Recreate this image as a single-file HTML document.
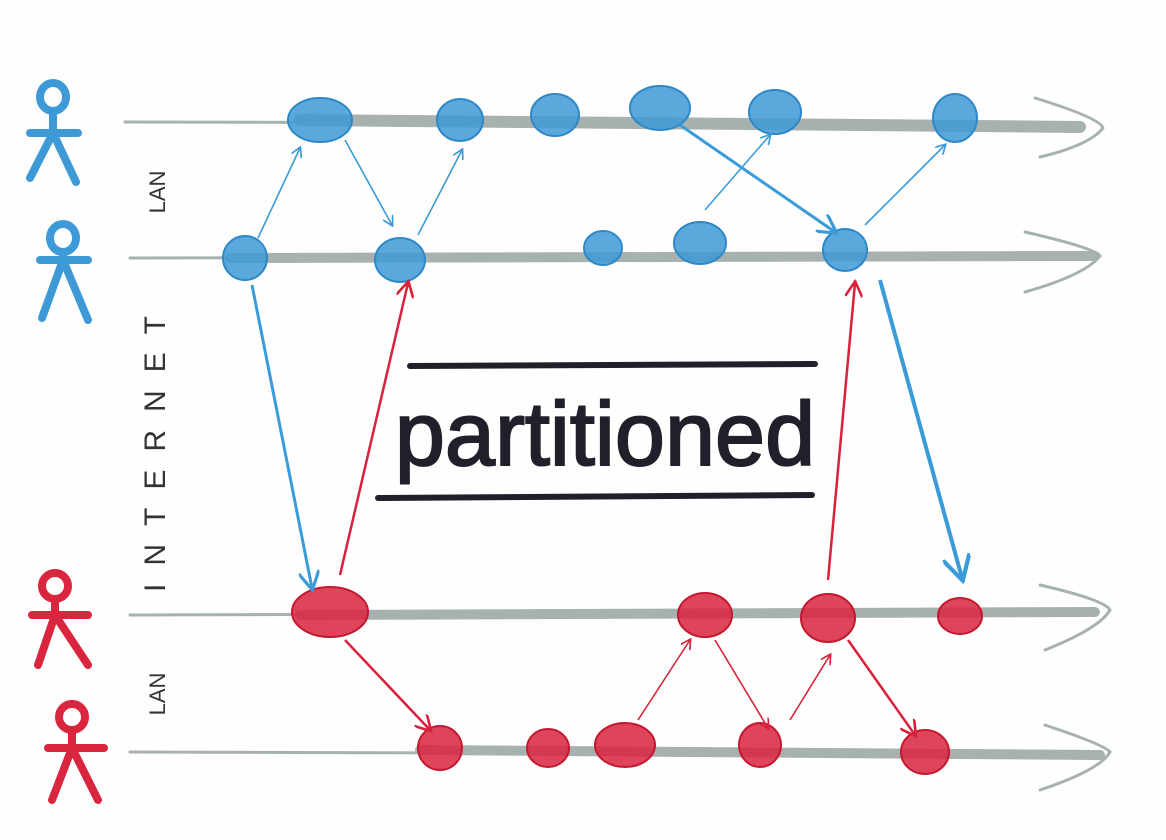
<!DOCTYPE html>
<html><head><style>body{margin:0;background:#fff}svg{display:block}</style></head><body>
<svg width="1166" height="840" viewBox="0 0 1166 840" xmlns="http://www.w3.org/2000/svg">
<defs>
<marker id="ab" viewBox="0 0 10 10" refX="8" refY="5" markerWidth="7" markerHeight="7" orient="auto"><path d="M0,0 L9,5 L0,10" fill="none" stroke="#3a9bd8" stroke-width="1.5"/></marker>
<marker id="ar" viewBox="0 0 10 10" refX="8" refY="5" markerWidth="7" markerHeight="7" orient="auto"><path d="M0,0 L9,5 L0,10" fill="none" stroke="#d8213a" stroke-width="1.5"/></marker>
</defs>
<rect width="1166" height="840" fill="#fefefe"/>
<g stroke="#a7b1b0" fill="none" stroke-linecap="round">
<path d="M125,122 L1060,124" stroke-width="3"/><path d="M300,120 L1080,127" stroke-width="12"/>
<path d="M1035,98 Q1100,118 1103,128 Q1090,145 1040,157" stroke-width="3"/>
<path d="M130,258 L1095,256" stroke-width="3"/><path d="M230,258 L1095,256" stroke-width="10"/>
<path d="M1025,232 Q1095,248 1100,256 Q1085,275 1025,292" stroke-width="3"/>
<path d="M130,615 L1095,612" stroke-width="3"/><path d="M300,615 L1095,612" stroke-width="10"/>
<path d="M1040,585 Q1105,600 1110,610 Q1100,628 1045,650" stroke-width="3"/>
<path d="M130,752 L1100,755" stroke-width="3"/><path d="M420,750 L1100,755" stroke-width="10"/>
<path d="M1045,725 Q1105,745 1110,752 Q1100,770 1040,790" stroke-width="3"/>
</g>
<g fill="#3e9ad6" fill-opacity="0.85" stroke="#2d88c8" stroke-width="2">
<ellipse cx="320" cy="120" rx="32" ry="22"/><ellipse cx="460" cy="120" rx="23" ry="21"/>
<ellipse cx="555" cy="115" rx="24" ry="21"/><ellipse cx="660" cy="108" rx="30" ry="22"/>
<ellipse cx="775" cy="112" rx="26" ry="22"/><ellipse cx="955" cy="118" rx="22" ry="24"/>
<ellipse cx="245" cy="258" rx="22" ry="22"/><ellipse cx="400" cy="260" rx="25" ry="22"/>
<ellipse cx="603" cy="248" rx="19" ry="17"/><ellipse cx="700" cy="243" rx="26" ry="21"/>
<ellipse cx="845" cy="250" rx="22" ry="21"/>
</g>
<g fill="#d9253d" fill-opacity="0.85" stroke="#c41830" stroke-width="2">
<ellipse cx="330" cy="612" rx="38" ry="25"/><ellipse cx="705" cy="615" rx="27" ry="22"/>
<ellipse cx="828" cy="618" rx="27" ry="24"/><ellipse cx="960" cy="616" rx="22" ry="18"/>
<ellipse cx="440" cy="748" rx="22" ry="22"/><ellipse cx="548" cy="748" rx="21" ry="19"/>
<ellipse cx="625" cy="745" rx="30" ry="22"/><ellipse cx="760" cy="745" rx="21" ry="22"/>
<ellipse cx="925" cy="752" rx="24" ry="22"/>
</g>
<g stroke="#3a9bd8" fill="none" stroke-width="1.6" marker-end="url(#ab)">
<path d="M258,238 L300,148"/><path d="M345,140 L392,225"/><path d="M418,235 L462,150"/>
<path d="M705,210 L770,135"/><path d="M680,125 L835,232" stroke-width="3"/><path d="M865,225 L945,145"/>
<path d="M252,285 L312,588" stroke-width="3"/><path d="M880,280 L962,578" stroke-width="4"/>
</g>
<g stroke="#d8213a" fill="none" stroke-width="1.6" marker-end="url(#ar)">
<path d="M340,575 L408,283" stroke-width="2.5"/><path d="M828,580 L855,283" stroke-width="2.5"/>
<path d="M345,640 L430,730" stroke-width="2.5"/><path d="M638,720 L690,640"/>
<path d="M715,640 L768,728"/><path d="M790,720 L830,655"/><path d="M848,640 L915,735" stroke-width="2.5"/>
</g>
<g stroke="#20202a" stroke-width="6" stroke-linecap="round">
<line x1="410" y1="366" x2="815" y2="364"/><line x1="378" y1="498" x2="812" y2="495"/>
</g>
<text x="605" y="465" text-anchor="middle" font-family="Liberation Sans, sans-serif" font-size="90" fill="#20202a" stroke="#20202a" stroke-width="2">partitioned</text>
<g fill="none" stroke-width="8" stroke-linecap="round">
<g stroke="#3e9ad6">
<ellipse cx="53" cy="97" rx="13" ry="14"/><path d="M53,111 V133 M30,133 H78 M53,133 L30,178 M53,133 L76,182"/>
<ellipse cx="63" cy="238" rx="13" ry="14"/><path d="M63,252 V260 M40,260 H88 M63,260 L42,318 M63,260 L88,320"/>
</g>
<g stroke="#d9253d">
<ellipse cx="55" cy="586" rx="13" ry="13"/><path d="M55,600 V615 M32,615 H88 M55,615 L38,665 M55,615 L88,665"/>
<ellipse cx="72" cy="717" rx="13" ry="13"/><path d="M72,731 V748 M48,748 H104 M72,748 L52,800 M72,748 L98,800"/>
</g>
</g>
<g font-family="Liberation Sans, sans-serif" fill="#333" font-size="22">
<text transform="translate(165,192) rotate(-90)" text-anchor="middle">LAN</text>
<text transform="translate(165,445) rotate(-90)" text-anchor="middle" letter-spacing="18" font-size="30">INTERNET</text>
<text transform="translate(165,694) rotate(-90)" text-anchor="middle">LAN</text>
</g>
</svg>
</body></html>
